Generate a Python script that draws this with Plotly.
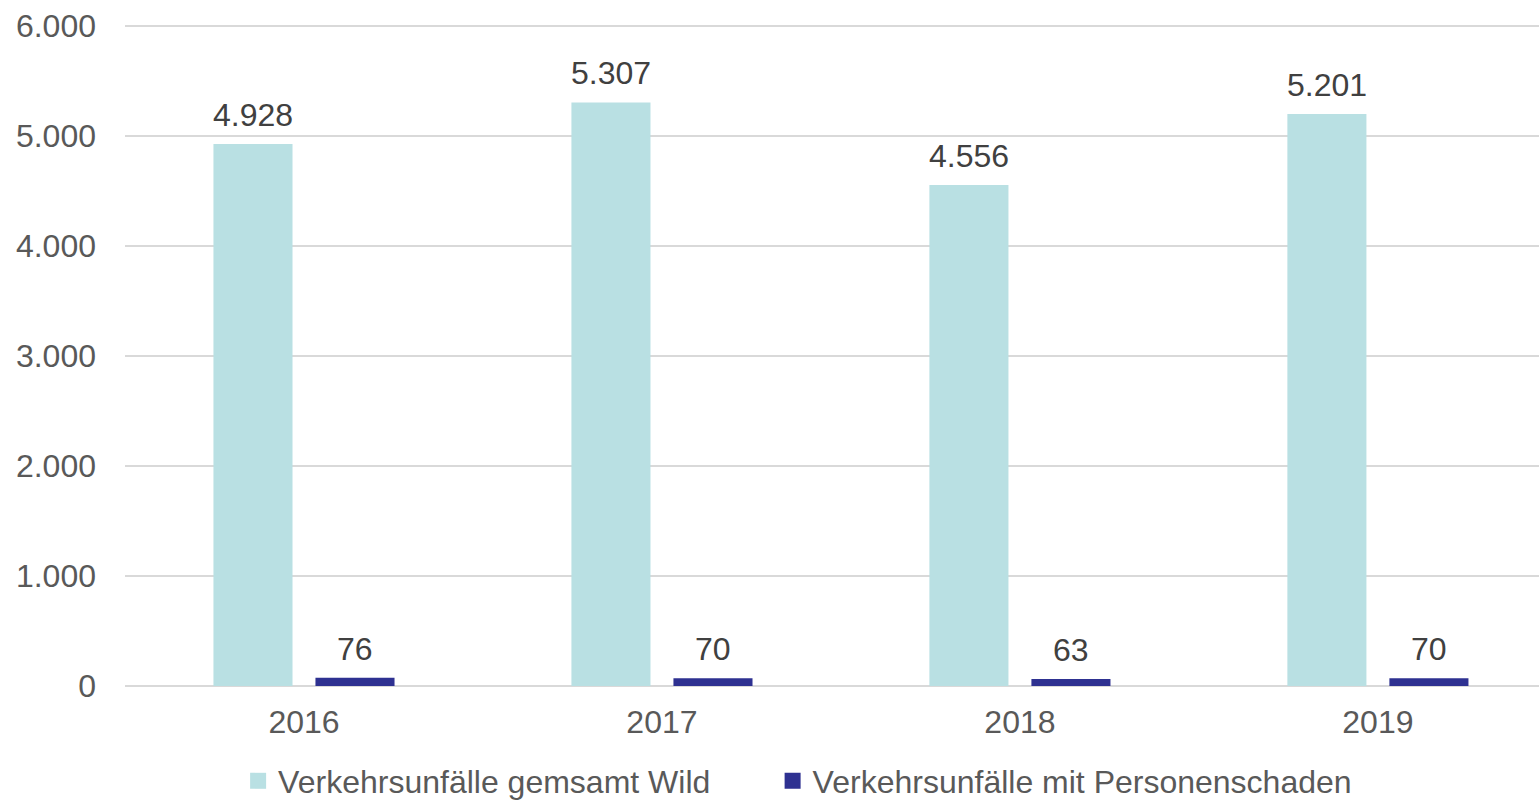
import plotly.graph_objects as go

years = ["2016", "2017", "2018", "2019"]
wild_total = [4928, 5307, 4556, 5201]
personal_injury = [76, 70, 63, 70]
y_ticks = [0, 1000, 2000, 3000, 4000, 5000, 6000]
series_names = ["Verkehrsunfälle gemsamt Wild", "Verkehrsunfälle mit Personenschaden"]
series_colors = ["#B9E0E3", "#2E3191"]

FONT = "Liberation Sans, Arial, sans-serif"
FS = 32

fig = go.Figure()
for vals, name, col in zip([wild_total, personal_injury], series_names, series_colors):
    fig.add_trace(go.Bar(
        x=years, y=vals, name=name, showlegend=False,
        marker=dict(color=col, line=dict(width=0)),
    ))
# legend entries with larger square symbols, each in its own legend
for name, col, lg in zip(series_names, series_colors, ["legend", "legend2"]):
    fig.add_trace(go.Scatter(
        x=[None], y=[None], mode="markers", name=name, legend=lg,
        marker=dict(symbol="square", size=17, color=col),
    ))

# value labels (x given as category index)
for vals, shift in zip([wild_total, personal_injury], [-51, 51]):
    for i, v in enumerate(vals):
        fig.add_annotation(
            x=i, y=v, xref="x", yref="y", text=f"{v:,d}".replace(",", "."),
            showarrow=False, xshift=shift, yshift=29, yanchor="middle",
            font=dict(family=FONT, size=FS, color="#404040"),
        )

leg_common = dict(orientation="h", xanchor="left", y=-0.1435, yanchor="middle",
                  font=dict(family=FONT, size=FS, color="#595959"), itemwidth=30,
                  bgcolor="rgba(0,0,0,0)")

fig.update_layout(
    width=1539, height=803,
    margin=dict(l=125, r=0, t=24, b=117, autoexpand=False),
    paper_bgcolor="white", plot_bgcolor="white",
    separators=",.",
    barmode="group", bargap=0.430, bargroupgap=0.225,
    font=dict(family=FONT, size=FS, color="#595959"),
    showlegend=True,
    legend=dict(x=0.080, **leg_common),
    legend2=dict(x=0.458, **leg_common),
    xaxis=dict(type="category", range=[-0.5, 3.45], showgrid=False,
               showline=False, ticks="", ticklabelstandoff=14, automargin=False,
               tickfont=dict(family=FONT, size=FS, color="#595959")),
    yaxis=dict(range=[0, 6020], tickvals=y_ticks, tickformat=",d",
               showgrid=True, gridcolor="#D9D9D9", gridwidth=2,
               zeroline=True, zerolinecolor="#D9D9D9", zerolinewidth=2,
               showline=False, ticks="", ticklabelstandoff=28, automargin=False,
               tickfont=dict(family=FONT, size=FS, color="#595959")),
)

fig.write_html("out.html", config={"displayModeBar": False},
               post_script="document.body.style.margin='0';document.body.style.overflow='hidden';")
